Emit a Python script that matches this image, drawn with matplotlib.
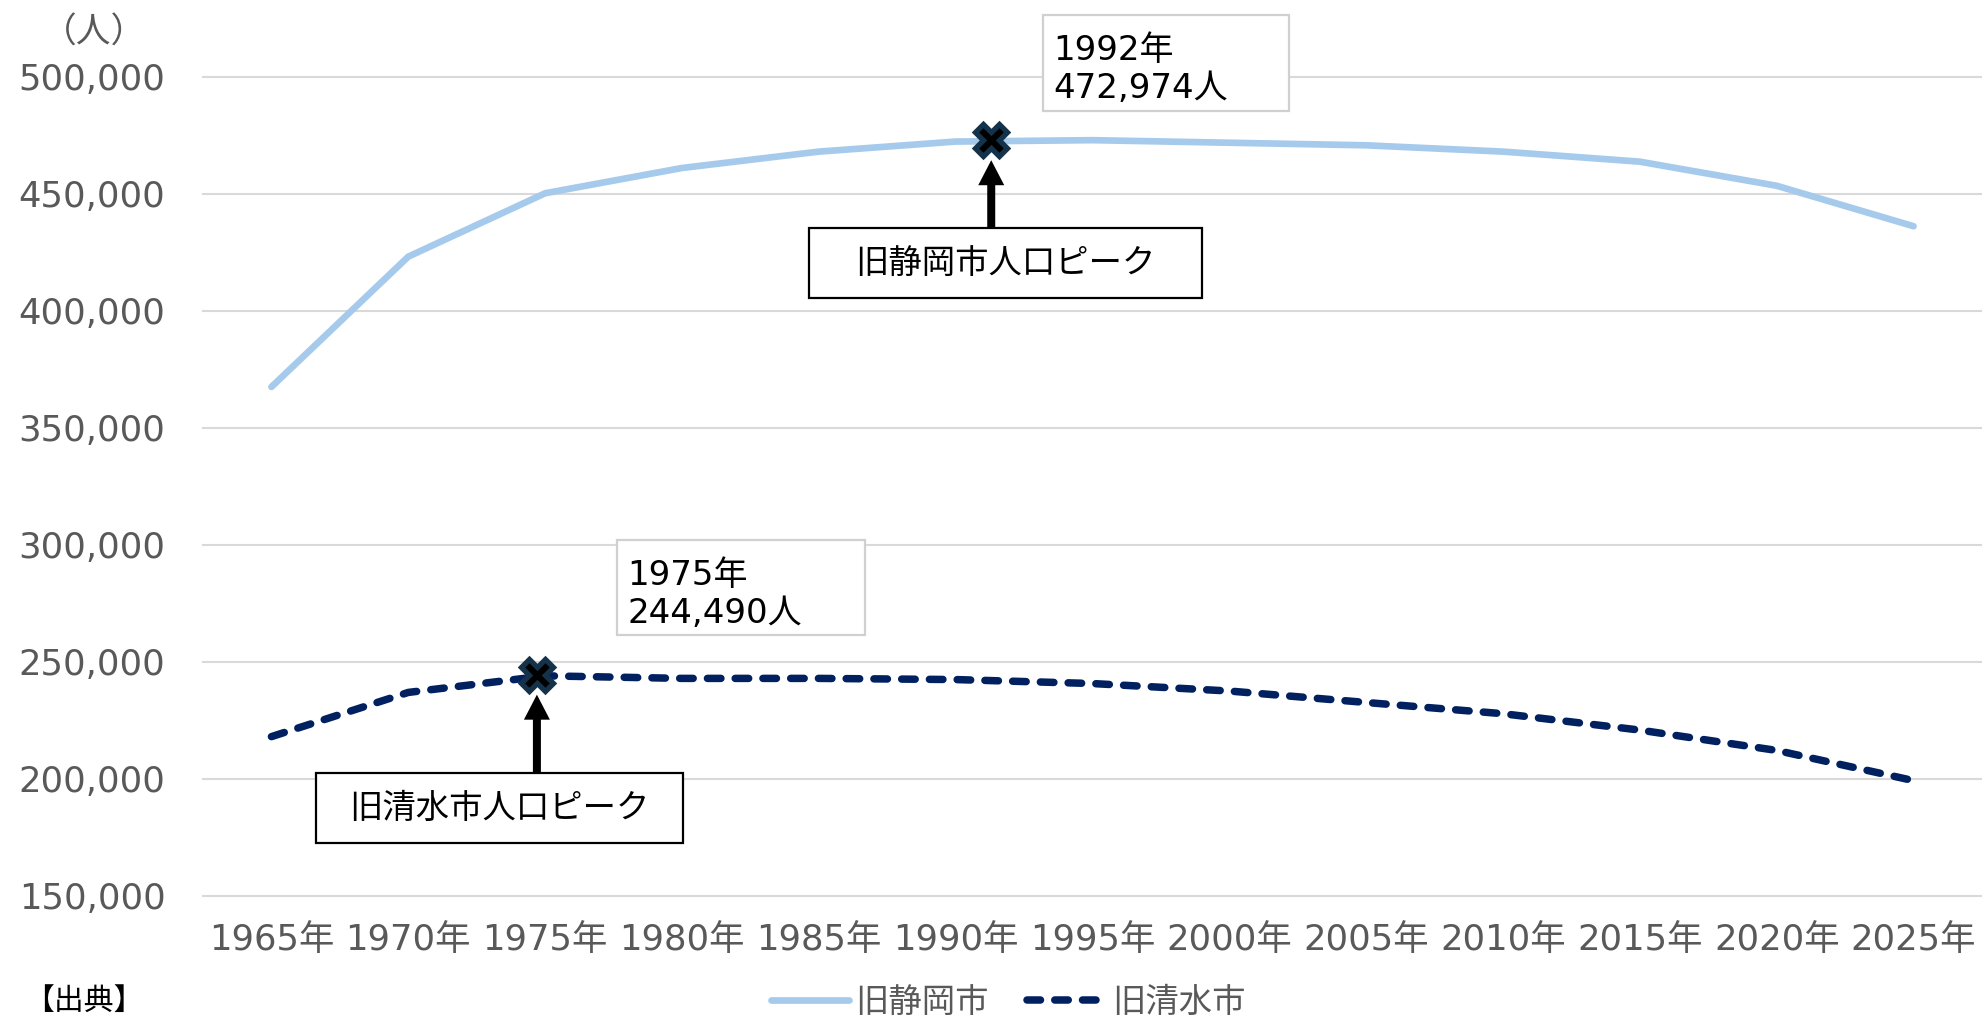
import matplotlib
matplotlib.use('Agg')
import matplotlib.pyplot as plt
from matplotlib.patches import Rectangle, FancyArrow
from matplotlib.transforms import IdentityTransform

plt.rcParams['font.family'] = ['DejaVu Sans', 'Noto Sans CJK JP']

# ---------------- data ----------------
years = ['1965年', '1970年', '1975年', '1980年', '1985年', '1990年', '1995年',
         '2000年', '2005年', '2010年', '2015年', '2020年', '2025年']
shizuoka = [367500, 423200, 450300, 461100, 468100, 472400, 473000,
            471900, 470800, 468100, 463800, 453500, 436200]
shimizu = [218000, 236900, 244000, 242900, 242900, 242400, 240700,
           237500, 232600, 227800, 220800, 212100, 199200]
series_names = ['旧静岡市', '旧清水市']
peak_years = [1992, 1975]
peak_values = [472974, 244490]
peak_pos = [5.26, 1.94]          # position of the peak marker on the category axis
peak_titles = ['旧静岡市人口ピーク', '旧清水市人口ピーク']
yticks = [150000, 200000, 250000, 300000, 350000, 400000, 450000, 500000]
unit_label = '（人）'
source_label = '【出典】'

# ---------------- layout helpers ----------------
W, H = 1982, 1017
fig = plt.figure(figsize=(W / 100, H / 100), dpi=100)


def fx(x):
    return x / W


def fy(y):
    return 1 - y / H


GRAY = '#595959'
ax = fig.add_axes([fx(203), fy(895.7), fx(1982) - fx(203), fy(77) - fy(895.7)])

xs = list(range(len(years)))
l1, = ax.plot(xs, shizuoka, color='#A6CAEC', lw=4.8, solid_capstyle='round',
              solid_joinstyle='round', label=series_names[0], zorder=3)
l2, = ax.plot(xs, shimizu, color='#002060', lw=5.4, dashes=(1.8, 1.9),
              dash_capstyle='round', dash_joinstyle='round',
              label=series_names[1], zorder=3)

ax.set_xlim(-0.5, len(years) - 0.5)
ax.set_ylim(yticks[0], yticks[-1])
ax.set_yticks(yticks)
ax.set_yticklabels([f'{v:,}' for v in yticks])
ax.set_xticks(xs)
ax.set_xticklabels(years)
ax.tick_params(length=0, colors=GRAY, labelsize=25.5)
ax.tick_params(axis='y', pad=27)
ax.tick_params(axis='x', pad=20)
ax.grid(axis='y', color='#D9D9D9', lw=1.5)
for gl in ax.get_ygridlines():
    gl.set_clip_on(False)
ax.set_axisbelow(True)
for s in ax.spines.values():
    s.set_visible(False)

# peak markers
for p, v in zip(peak_pos, peak_values):
    ax.plot([p], [v], marker='X', ms=22.5, mfc='black', mec='#14324A', mew=3.8,
            ls='none', zorder=6, clip_on=False)

# value boxes (light gray border)
value_boxes = [(1043, 15, 1289, 111), (617, 540, 865, 635)]
for (x0, y0, x1, y1), yr, v in zip(value_boxes, peak_years, peak_values):
    fig.add_artist(Rectangle((fx(x0), fy(y1)), fx(x1) - fx(x0), fy(y0) - fy(y1),
                             transform=fig.transFigure, facecolor='white',
                             edgecolor='#D0D0D0', lw=1.6, zorder=7))
    fig.text(fx(x0 + 10), fy(y0 + 45), f'{yr}年', fontsize=24.5, color='black',
             ha='left', va='baseline', zorder=8)
    fig.text(fx(x0 + 10), fy(y0 + 83), f'{v:,}人', fontsize=24.5, color='black',
             ha='left', va='baseline', zorder=8)

# title boxes (black border) with arrows
title_boxes = [(809, 228, 1202, 298), (316, 773, 683, 843)]
fig.canvas.draw()
for (x0, y0, x1, y1), t, p, v in zip(title_boxes, peak_titles, peak_pos, peak_values):
    fig.add_artist(Rectangle((fx(x0), fy(y1)), fx(x1) - fx(x0), fy(y0) - fy(y1),
                             transform=fig.transFigure, facecolor='white',
                             edgecolor='black', lw=1.6, zorder=7))
    fig.text(fx((x0 + x1) / 2), fy((y0 + y1) / 2), t, fontsize=24, color='black',
             ha='center', va='center', zorder=8)
    mx, my = ax.transData.transform((p, v))
    base = H - y0
    tip = my - 20
    fig.add_artist(FancyArrow(mx, base, 0, tip - base, width=8, head_width=26,
                              head_length=25, length_includes_head=True,
                              transform=IdentityTransform(), color='black',
                              lw=0, zorder=8))

# unit label and source
fig.text(fx(94), fy(33), unit_label, fontsize=25, color=GRAY, ha='center', va='center')
fig.text(fx(24), fy(1011), source_label, fontsize=21.5, color='black', ha='left', va='baseline')

# legend
fig.legend(handles=[l1, l2], loc='center', bbox_to_anchor=(fx(1008), fy(1002)), ncol=2,
           frameon=False, fontsize=24, handlelength=2.34, handletextpad=0.2,
           columnspacing=1.14, labelcolor=GRAY, borderaxespad=0, borderpad=0)

fig.savefig('out.png', dpi=100)
